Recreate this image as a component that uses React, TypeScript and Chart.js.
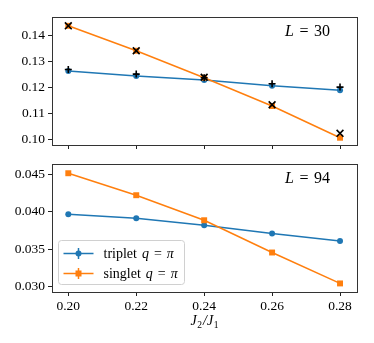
import React, { useEffect, useRef } from "react";
import { Chart, registerables } from "chart.js";

Chart.register(...registerables);

// ---- data ----
const jRatio = [0.2, 0.22, 0.24, 0.26, 0.28];
const tripletL30 = [0.1262, 0.1243, 0.1227, 0.1205, 0.1188];
const singletL30 = [0.1436, 0.134, 0.1236, 0.1127, 0.1005];
const tripletRefL30 = [0.1268, 0.125, 0.1236, 0.1213, 0.12];
const singletRefL30 = [0.1436, 0.134, 0.1238, 0.1132, 0.1022];
const tripletL94 = [0.0397, 0.03915, 0.0382, 0.0371, 0.0361];
const singletL94 = [0.04519, 0.04224, 0.03888, 0.03455, 0.0304];

const xTicks = [0.2, 0.22, 0.24, 0.26, 0.28];
const yTicksTop = [0.1, 0.11, 0.12, 0.13, 0.14];
const yTicksBottom = [0.03, 0.035, 0.04, 0.045];

const BLUE = "#1f77b4";
const ORANGE = "#ff7f0e";
const FONT = '"Liberation Serif", "DejaVu Serif", serif';

type Piece = { t: string; it?: boolean; s?: number; dy?: number; pre?: number; post?: number };

function drawPieces(ctx: CanvasRenderingContext2D, pieces: Piece[], x: number, y: number, size: number, align: "left" | "right" | "center") {
  const widths = pieces.map((p) => {
    ctx.font = `${p.it ? "italic " : ""}${p.s ?? size}px ${FONT}`;
    return ctx.measureText(p.t).width + (p.pre || 0) + (p.post || 0);
  });
  const total = widths.reduce((a, b) => a + b, 0);
  let cx = align === "left" ? x : align === "right" ? x - total : x - total / 2;
  ctx.textAlign = "left";
  ctx.textBaseline = "alphabetic";
  ctx.fillStyle = "#000";
  pieces.forEach((p, i) => {
    ctx.font = `${p.it ? "italic " : ""}${p.s ?? size}px ${FONT}`;
    ctx.fillText(p.t, cx + (p.pre || 0), y + (p.dy || 0));
    cx += widths[i];
  });
}

const pts = (ys: number[]) => ys.map((y, i) => ({ x: jRatio[i], y }));

function spinesPlugin(label: string) {
  return {
    id: "spines",
    afterDraw(chart: any) {
      const { ctx, chartArea } = chart;
      const { left, right, top, bottom } = chartArea;
      ctx.save();
      ctx.strokeStyle = "#333";
      ctx.lineWidth = 1;
      ctx.strokeRect(Math.round(left) + 0.5, Math.round(top) + 0.5, Math.round(right - left), Math.round(bottom - top));
      drawPieces(
        ctx,
        [
          { t: "L", it: true },
          { t: "=", pre: 5.5, post: 5.5 },
          { t: label },
        ],
        right - 27,
        top + 19,
        16,
        "right"
      );
      ctx.restore();
    },
  };
}

const legendPlugin = {
  id: "customLegend",
  afterDraw(chart: any) {
    const { ctx, chartArea } = chart;
    const bx = chartArea.left + 6.5;
    const bh = 44;
    const bw = 126;
    const by = chartArea.bottom - 7.5 - bh;
    ctx.save();
    ctx.beginPath();
    (ctx as any).roundRect(bx, by, bw, bh, 3);
    ctx.fillStyle = "rgba(255,255,255,0.85)";
    ctx.fill();
    ctx.strokeStyle = "#d0d0d0";
    ctx.lineWidth = 1;
    ctx.stroke();
    const rows = [
      { color: BLUE, style: "circle", name: "triplet" },
      { color: ORANGE, style: "rect", name: "singlet" },
    ];
    rows.forEach((r, i) => {
      const y = by + 13 + i * 20;
      const x0 = bx + 5;
      ctx.strokeStyle = r.color;
      ctx.lineWidth = 1.5;
      ctx.beginPath();
      ctx.moveTo(x0, y);
      ctx.lineTo(x0 + 30, y);
      ctx.moveTo(x0 + 15, y - 5.5);
      ctx.lineTo(x0 + 15, y + 5.5);
      ctx.stroke();
      ctx.fillStyle = r.color;
      if (r.style === "circle") {
        ctx.beginPath();
        ctx.arc(x0 + 15, y, 3, 0, Math.PI * 2);
        ctx.fill();
      } else {
        ctx.fillRect(x0 + 12, y - 3, 6, 6);
      }
      drawPieces(
        ctx,
        [
          { t: r.name, post: 5 },
          { t: "q", it: true },
          { t: "=", pre: 5, post: 5 },
          { t: "π", it: true },
        ],
        x0 + 40,
        y + 4.5,
        14,
        "left"
      );
    });
    // x axis title J2/J1
    const tx = (chartArea.left + chartArea.right) / 2;
    const ty = chartArea.bottom + 33;
    drawPieces(
      ctx,
      [
        { t: "J", it: true, s: 14 },
        { t: "2", s: 9.5, dy: 3, pre: 0.5 },
        { t: "/", s: 14, it: true, pre: 1 },
        { t: "J", it: true, s: 14 },
        { t: "1", s: 9.5, dy: 3, pre: 0.5 },
      ],
      tx,
      ty,
      14,
      "center"
    );
    ctx.restore();
  },
};

function makeOptions(yMin: number, yMax: number, yTicks: number[], yDec: number, showX: boolean, xHeight: number, padTop: number) {
  return {
    responsive: false,
    animation: false as const,
    events: [],
    layout: { padding: { top: padTop, right: 17, left: 0, bottom: 0 } },
    plugins: { legend: { display: false }, tooltip: { enabled: false } },
    scales: {
      x: {
        type: "linear" as const,
        min: 0.1952,
        max: 0.285,
        afterFit: (s: any) => {
          s.height = xHeight;
        },
        afterBuildTicks: (s: any) => {
          s.ticks = xTicks.map((v) => ({ value: v }));
        },
        border: { display: false },
        grid: { drawOnChartArea: false, drawTicks: true, tickLength: 4, tickColor: "#222", lineWidth: 1 },
        ticks: {
          display: showX,
          padding: 2,
          color: "#000",
          font: { family: FONT, size: 13.5 },
          callback: (v: any) => Number(v).toFixed(2),
        },
      },
      y: {
        type: "linear" as const,
        min: yMin,
        max: yMax,
        afterFit: (s: any) => {
          s.width = 52;
        },
        afterBuildTicks: (s: any) => {
          s.ticks = yTicks.map((v) => ({ value: v }));
        },
        border: { display: false },
        grid: { drawOnChartArea: false, drawTicks: true, tickLength: 4, tickColor: "#222", lineWidth: 1 },
        ticks: {
          padding: 3,
          color: "#000",
          font: { family: FONT, size: 13.5 },
          callback: (v: any) => Number(v).toFixed(yDec),
        },
      },
    },
  };
}

export default function App() {
  const topRef = useRef<HTMLCanvasElement>(null);
  const botRef = useRef<HTMLCanvasElement>(null);

  useEffect(() => {
    const top = new Chart(topRef.current as HTMLCanvasElement, {
      type: "line",
      data: {
        datasets: [
          {
            label: "triplet ref",
            data: pts(tripletRefL30),
            showLine: false,
            pointStyle: "cross",
            pointRadius: 3.5,
            borderColor: "#000",
            backgroundColor: "#000",
            pointBorderWidth: 1.6,
            order: 1,
          },
          {
            label: "singlet ref",
            data: pts(singletRefL30),
            showLine: false,
            pointStyle: "crossRot",
            pointRadius: 4.8,
            borderColor: "#000",
            backgroundColor: "#000",
            pointBorderWidth: 1.6,
            order: 1,
          },
          {
            label: "singlet",
            data: pts(singletL30),
            borderColor: ORANGE,
            backgroundColor: ORANGE,
            borderWidth: 1.5,
            pointStyle: "rect",
            pointRadius: 4.2,
            pointBorderWidth: 0,
            order: 2,
          },
          {
            label: "triplet",
            data: pts(tripletL30),
            borderColor: BLUE,
            backgroundColor: BLUE,
            borderWidth: 1.5,
            pointStyle: "circle",
            pointRadius: 3,
            pointBorderWidth: 0,
            order: 3,
          },
        ],
      },
      options: makeOptions(0.0977, 0.147, yTicksTop, 2, false, 15, 17) as any,
      plugins: [spinesPlugin("30")],
    });
    const bot = new Chart(botRef.current as HTMLCanvasElement, {
      type: "line",
      data: {
        datasets: [
          {
            label: "singlet q = π",
            data: pts(singletL94),
            borderColor: ORANGE,
            backgroundColor: ORANGE,
            borderWidth: 1.5,
            pointStyle: "rect",
            pointRadius: 4.2,
            pointBorderWidth: 0,
            order: 2,
          },
          {
            label: "triplet q = π",
            data: pts(tripletL94),
            borderColor: BLUE,
            backgroundColor: BLUE,
            borderWidth: 1.5,
            pointStyle: "circle",
            pointRadius: 3,
            pointBorderWidth: 0,
            order: 3,
          },
        ],
      },
      options: makeOptions(0.02925, 0.04643, yTicksBottom, 3, true, 51, 14) as any,
      plugins: [spinesPlugin("94"), legendPlugin],
    });
    return () => {
      top.destroy();
      bot.destroy();
    };
  }, []);

  return (
    <div style={{ position: "fixed", left: 0, top: 0, width: 374, height: 343, background: "#fff" }}>
      <canvas ref={topRef} width={374} height={160} style={{ position: "absolute", left: 0, top: 0, width: 374, height: 160 }} />
      <canvas ref={botRef} width={374} height={193} style={{ position: "absolute", left: 0, top: 150, width: 374, height: 193 }} />
    </div>
  );
}
